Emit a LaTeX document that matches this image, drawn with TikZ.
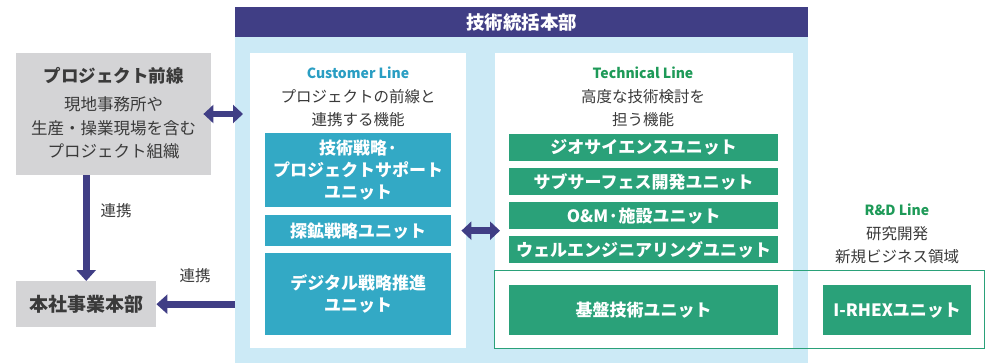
\documentclass[tikz,border=0pt]{standalone}
\usepackage{fontspec}
\setmainfont{Noto Sans CJK JP}
\usetikzlibrary{arrows.meta}
\definecolor{hdr}{HTML}{403E85}
\definecolor{lblue}{HTML}{CCEAF6}
\definecolor{gbox}{HTML}{D4D4D6}
\definecolor{teal}{HTML}{33A9C5}
\definecolor{grn}{HTML}{2AA179}
\definecolor{custc}{HTML}{2A9EC3}
\definecolor{techc}{HTML}{1E9A58}
\definecolor{txt}{HTML}{3A3A3A}
\definecolor{arr}{HTML}{403E85}
\tikzset{
  graybox/.style={fill=gbox, draw=none, inner sep=0pt, text=txt},
  tealbox/.style={fill=teal, draw=none, inner sep=0pt, text=white, align=center, font=\bfseries\fontsize{17}{22}\selectfont},
  grnbox/.style={fill=grn, draw=none, inner sep=0pt, text=white, align=center, font=\bfseries\fontsize{17}{22}\selectfont},
  panel/.style={fill=white, draw=none, inner sep=0pt},
  body/.style={text=txt, align=center, inner sep=0pt, font=\fontsize{15.5}{23}\selectfont},
  linetitle/.style={font=\bfseries\fontsize{14}{16}\selectfont, inner sep=0pt},
  fat/.style={draw=arr, line width=7pt, -{Triangle[length=11pt,width=19pt]}},
  fatboth/.style={draw=arr, line width=6.5pt, {Triangle[length=10pt,width=18pt]}-{Triangle[length=10pt,width=18pt]}},
}
\begin{document}
\begin{tikzpicture}[x=1pt,y=-1pt]
\useasboundingbox (0,0) rectangle (987,363);
% main area
\node[fill=lblue, inner sep=0pt, minimum width=573pt, minimum height=326pt, anchor=north west] (lb) at (235,37) {};
\node[fill=hdr, inner sep=0pt, minimum width=573pt, minimum height=30pt, anchor=north west, text=white, font=\bfseries\fontsize{18.5}{20}\selectfont] (hd) at (235,7) {技術統括本部};
% panels
\node[panel, minimum width=216pt, minimum height=295pt, anchor=north west] (cust) at (250,53) {};
\node[panel, minimum width=298pt, minimum height=295pt, anchor=north west] (tech) at (495,53) {};
% customer line
\node[linetitle, text=custc] (ct) at (358,73) {Customer Line};
\node[body] (cb) at (358,108.5) {プロジェクトの前線と\\連携する機能};
\node[tealbox, minimum width=186pt, minimum height=74pt, anchor=north west] (t1) at (265,133) {技術戦略·\\プロジェクトサポート\\ユニット};
\node[tealbox, minimum width=186pt, minimum height=31pt, anchor=north west] (t2) at (265,215) {探鉱戦略ユニット};
\node[tealbox, minimum width=186pt, minimum height=82pt, anchor=north west] (t3) at (265,253) {デジタル戦略推進\\ユニット};
% technical line
\node[linetitle, text=techc] (tt) at (643,73) {Technical Line};
\node[body] (tb) at (643,108.5) {高度な技術検討を\\担う機能};
\node[grnbox, minimum width=269pt, minimum height=27pt, anchor=north west] (g1) at (509,134) {ジオサイエンスユニット};
\node[grnbox, minimum width=269pt, minimum height=27pt, anchor=north west] (g2) at (509,168) {サブサーフェス開発ユニット};
\node[grnbox, minimum width=269pt, minimum height=27pt, anchor=north west] (g3) at (509,202) {O\&M·施設ユニット};
\node[grnbox, minimum width=269pt, minimum height=27pt, anchor=north west] (g4) at (509,236) {ウェルエンジニアリングユニット};
\node[grnbox, minimum width=269pt, minimum height=50pt, anchor=north west] (g5) at (509,285) {基盤技術ユニット};
% R&D line
\node[linetitle, text=techc] (rt) at (897,210) {R\&D Line};
\node[body] (rb) at (897,245) {研究開発\\新規ビジネス領域};
\node[grnbox, minimum width=148pt, minimum height=50pt, anchor=north west] (rx) at (823,285) {I-RHEXユニット};
% outline box
\node[draw=grn, line width=1.2pt, inner sep=0pt, minimum width=490pt, minimum height=78pt, anchor=north west] (ob) at (494,270) {};
% left side
\node[graybox, minimum width=195pt, minimum height=122pt, anchor=north west] (pj) at (16,53) {};
\node[text=txt, font=\bfseries\fontsize{17.5}{20}\selectfont, inner sep=0pt] (pjt) at (113.5,76) {プロジェクト前線};
\node[body, font=\fontsize{16.5}{23.5}\selectfont] (pjb) at (113.5,128) {現地事務所や\\生産・操業現場を含む\\プロジェクト組織};
\node[graybox, minimum width=140pt, minimum height=46pt, anchor=north west, font=\bfseries\fontsize{19}{20}\selectfont] (hs) at (16,281) {本社事業本部};
% arrows
\coordinate (a1) at (pj.east |- 0,114);
\coordinate (a2) at (lb.west |- 0,114);
\draw[fatboth] ([xshift=-8pt]a1) -- ([xshift=8pt]a2);
\draw[fat] (hs.north |- pj.south) -- (hs.north);
\node[text=txt, font=\fontsize{15.5}{18}\selectfont, inner sep=0pt] (l1) at (116,211) {連携};
\coordinate (a3) at (lb.west |- hs.east);
\draw[fat] (a3) -- (hs.east);
\node[text=txt, font=\fontsize{15.5}{18}\selectfont, inner sep=0pt] (l2) at (195,276) {連携};
\coordinate (a4) at (cust.east |- t2.east);
\coordinate (a5) at (tech.west |- t2.east);
\draw[fatboth] ([xshift=-5pt]a4) -- ([xshift=5pt]a5);
\end{tikzpicture}
\end{document}
